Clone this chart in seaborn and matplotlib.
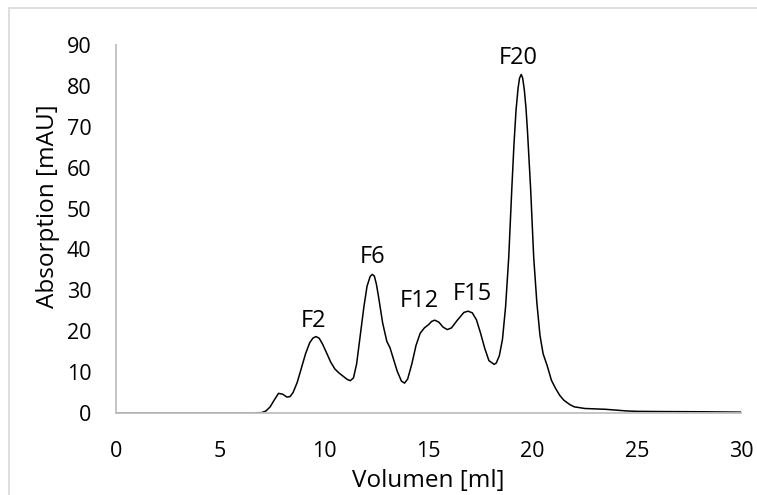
import numpy as np
import pandas as pd
import matplotlib
matplotlib.use("Agg")
import matplotlib.pyplot as plt
import seaborn as sns
from matplotlib.lines import Line2D

# Elution volume [ml] and absorption [mAU]
volume = [0.0, 3.0, 6.5, 7.0, 7.2, 7.4, 7.6, 7.8, 8.0, 8.2, 8.35, 8.5, 8.7, 8.9,
          9.1, 9.3, 9.45, 9.6, 9.75, 9.9, 10.1, 10.3, 10.5, 10.7, 10.9, 11.1,
          11.25, 11.4, 11.55, 11.7, 11.9, 12.05, 12.2, 12.3, 12.4, 12.5, 12.6,
          12.8, 13.0, 13.15, 13.3, 13.5, 13.7, 13.85, 14.0, 14.2, 14.4, 14.6,
          14.8, 15.0, 15.15, 15.3, 15.5, 15.7, 15.9, 16.1, 16.4, 16.7, 16.9,
          17.1, 17.3, 17.5, 17.7, 17.9, 18.15, 18.25, 18.4, 18.55, 18.7, 18.85,
          19.0, 19.1, 19.2, 19.3, 19.37, 19.45, 19.52, 19.6, 19.68, 19.75,
          19.9, 20.05, 20.2, 20.35, 20.5, 20.7, 20.9, 21.1, 21.3, 21.5, 21.8,
          22.0, 22.5, 23.0, 23.5, 24.0, 24.5, 25.0, 26.0, 28.0, 30.0]
absorption = [0.0, 0.0, 0.0, 0.1, 0.5, 1.5, 3.2, 4.8, 4.6, 3.9, 4.0, 5.0, 7.5,
              11.0, 14.5, 17.2, 18.3, 18.7, 18.3, 17.0, 14.8, 12.5, 10.8, 9.8,
              9.0, 8.2, 7.9, 8.6, 12.0, 18.0, 26.0, 31.0, 33.4, 33.9, 33.5,
              31.5, 28.5, 22.0, 17.5, 16.0, 13.5, 10.2, 7.8, 7.3, 8.3, 12.0,
              16.5, 19.5, 20.8, 21.6, 22.4, 22.7, 22.2, 21.0, 20.4, 20.8, 22.8,
              24.6, 24.9, 24.5, 22.8, 19.5, 15.8, 12.8, 11.9, 12.2, 14.0, 18.0,
              26.0, 38.0, 55.0, 65.5, 74.0, 79.5, 81.9, 82.8, 81.9, 79.0, 74.5,
              69.0, 55.0, 38.0, 27.0, 19.0, 14.5, 11.5, 8.0, 6.0, 4.3, 3.1,
              2.0, 1.5, 1.1, 1.0, 0.9, 0.7, 0.5, 0.4, 0.35, 0.3, 0.2]

# Fraction labels
frac_labels = ["F2", "F6", "F12", "F15", "F20"]
frac_x = [9.5, 12.31, 14.55, 17.1, 19.3]
frac_y = [22.5, 38.2, 27.4, 29.1, 86.8]

x_ticks = [0, 5, 10, 15, 20, 25, 30]
y_ticks = [0, 10, 20, 30, 40, 50, 60, 70, 80, 90]

sns.set_style("white")
plt.rcParams['font.family'] = ['Open Sans', 'DejaVu Sans']
plt.rcParams['text.color'] = 'black'
plt.rcParams['axes.labelcolor'] = 'black'

df = pd.DataFrame({"Volumen": volume, "Absorption": absorption})

fig = plt.figure(figsize=(7.57, 4.95), dpi=100)
ax = fig.add_axes([0.1532, 0.1657, 0.9789 - 0.1532, 0.909 - 0.1657])

sns.lineplot(data=df, x="Volumen", y="Absorption", ax=ax, color="black",
             linewidth=1.1)

ax.set_xlim(0, 30)
ax.set_ylim(0, 90)
ax.set_xticks(x_ticks)
ax.set_yticks(y_ticks)
ax.tick_params(axis="both", labelsize=15.5, colors="#bfbfbf", labelcolor="black",
               width=1.3, direction="out")
ax.tick_params(axis="x", length=6.5, pad=13.5)
ax.tick_params(axis="y", length=5.8, pad=12)

for s in ["top", "right"]:
    ax.spines[s].set_visible(False)
for s in ["left", "bottom"]:
    ax.spines[s].set_color("#bfbfbf")
    ax.spines[s].set_linewidth(1.3)

ax.set_xlabel("Volumen [ml]", fontsize=17.5, color="black")
ax.set_ylabel("Absorption [mAU]", fontsize=17.5, color="black")
ax.xaxis.set_label_coords(0.5, (413 - 493) / 368, transform=ax.transAxes)
ax.yaxis.set_label_coords((36 - 116) / 625, 0.5625, transform=ax.transAxes)
ax.xaxis.label.set_va("bottom")
ax.yaxis.label.set_va("top")

for lab, xx, yy in zip(frac_labels, frac_x, frac_y):
    ax.text(xx, yy, lab, ha="center", va="center", fontsize=17,
            color="black", clip_on=False)

# light gray chart border
fig.add_artist(Line2D([9 / 757, 1.0], [1 - 8 / 495, 1 - 8 / 495],
                      transform=fig.transFigure, color="#d9d9d9", lw=1.2))
fig.add_artist(Line2D([9 / 757, 9 / 757], [0.0, 1 - 8 / 495],
                      transform=fig.transFigure, color="#d9d9d9", lw=1.2))

fig.savefig("out.png", dpi=100)
